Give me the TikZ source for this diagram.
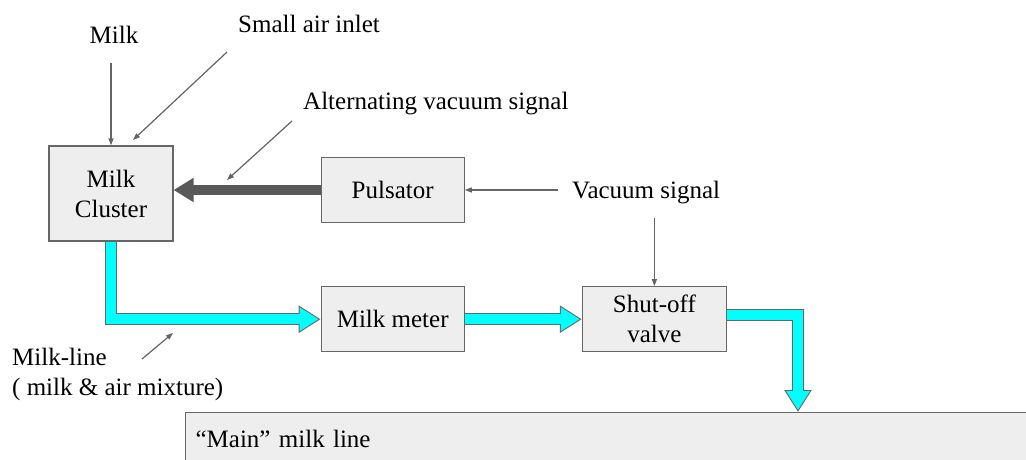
\documentclass[tikz,border=0pt]{standalone}
\usepackage{fontspec}
\setmainfont{Liberation Serif}
\usepackage{xcolor}
\usepackage{tikz}
\usetikzlibrary{
    arrows.meta,
    positioning,
    calc
}
\definecolor{boxfill}{RGB}{238,238,238}
\definecolor{boxline}{RGB}{102,102,102}
\definecolor{signal}{RGB}{89,89,89}
\definecolor{pointer}{RGB}{100,100,100}
\definecolor{milkcyan}{RGB}{0,255,255}
\tikzset{
    box/.style={
        rectangle,
        draw=boxline,
        fill=boxfill,
        minimum width=143pt,
        minimum height=65pt,
        align=center,
        line width=1.2pt
    },
    note/.style={
        inner sep=0pt,
        align=left
    },
    pointer/.style={
        -{Triangle[length=7pt,width=5pt]},
        draw=pointer,
        line width=1.2pt
    },
    vacuumflow/.style={
        -{Triangle[length=20pt,width=23pt]},
        draw=signal,
        line width=10pt
    },
    pipeedge/.style={
        -{Triangle[length=22pt,width=26pt]},
        draw=boxline,
        line width=12pt
    },
    pipecore/.style={
        -{Triangle[length=19pt,width=22.5pt]},
        draw=milkcyan,
        line width=9.6pt,
        shorten >=2pt
    }
}

\begin{document}
\begin{tikzpicture}[
    x=1pt, y=-1pt,
    every node/.style={font=\fontsize{25}{30}\selectfont}
]
    \useasboundingbox (0,0) rectangle (1026,459);

    \node[box, minimum width=124pt, minimum height=95pt] (cluster) at (111,193.5) {Milk\\Cluster};
    \node[box, right=147pt of cluster, yshift=3.5pt] (pulsator) {Pulsator};
    \node[box, below=63pt of pulsator] (meter) {Milk meter};
    \node[box, right=117pt of meter, minimum width=144pt] (shutoff) {Shut-off\\valve};
    \node[box, anchor=north west, text width=860pt, inner xsep=10pt, inner ysep=0pt,
          text height=35pt, text depth=40pt, align=left] (main) at (185,412) {“Main” milk line};

    % Annotations
    \node[note, anchor=base] (milklbl) at (114,43) {Milk};
    \node[note, anchor=base west] (airlbl) at (238,32) {Small air inlet};
    \node[note, anchor=base west] (altlbl) at (303,109) {Alternating vacuum signal};
    \node[note, anchor=base west] (vaclbl) at (572,198) {Vacuum signal};
    \node[note, anchor=north west] (linelbl) at (12,348) {Milk-line\\( milk \& air mixture)};

    \coordinate (milkin) at (111,63);
    \coordinate (airin) at (227,52);
    \coordinate (airend) at (133,140);
    \coordinate (altin) at (292,121);
    \coordinate (altend) at (227,180);
    \coordinate (vacin) at (558,190);
    \coordinate (vacdown) at (652,218);
    \coordinate (linein) at (142,359);
    \coordinate (lineend) at (173,333);
    \coordinate (drop) at (798,0);

    % Vacuum signals
    \draw[vacuumflow] (pulsator.west) -- (pulsator.west -| cluster.east);
    \draw[pointer] (vacin) -- (pulsator.east);
    \draw[pointer] (shutoff.north |- vacdown) -- (shutoff.north);

    % Milk flow
    \draw[pipeedge] (cluster.south) |- (meter.west);
    \draw[pipecore] (cluster.south) |- (meter.west);
    \draw[pipeedge] (meter.east) -- (shutoff.west);
    \draw[pipecore] (meter.east) -- (shutoff.west);
    \draw[pipeedge] ([yshift=4pt]shutoff.east) -| (main.north -| drop);
    \draw[pipecore] ([yshift=4pt]shutoff.east) -| (main.north -| drop);

    % Pointers from labels
    \draw[pointer] (milkin) -- (cluster.north);
    \draw[pointer] (airin) -- (airend);
    \draw[pointer] (altin) -- (altend);
    \draw[pointer] (linein) -- (lineend);
\end{tikzpicture}
\end{document}
